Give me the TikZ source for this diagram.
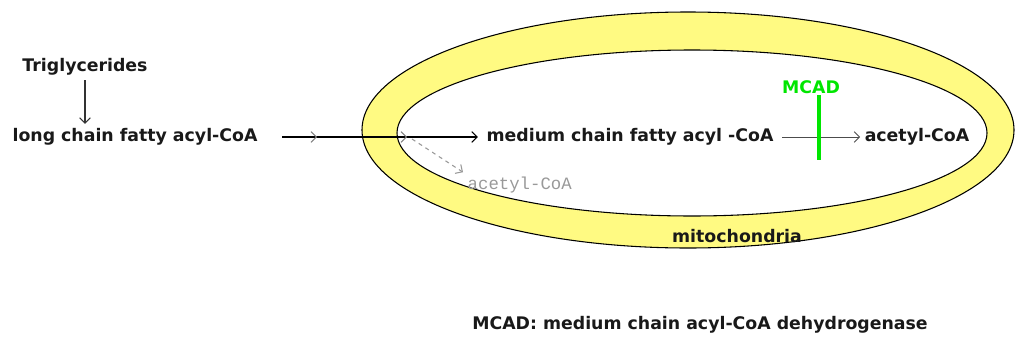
\documentclass[tikz,border=0pt]{standalone}
\usepackage{fontspec}
\setmainfont{DejaVu Sans}
\newfontfamily\monofont{Liberation Mono}
\usetikzlibrary{arrows.meta,decorations.markings}
\definecolor{mitoyellow}{RGB}{255,250,130}
\definecolor{mcadgreen}{RGB}{0,230,0}
\tikzset{
  lbl/.style={font=\fontsize{13}{15}\selectfont\bfseries,text=black!90},
  arr/.style={->,draw=black!80,line width=0.8pt},
  >={Straight Barb[length=4pt,width=8pt]}
}
\begin{document}
\begin{tikzpicture}[x=0.75pt,y=-0.75pt]
  \useasboundingbox (0,0) rectangle (1016,339);
  % mitochondrion: outer and inner membrane
  \fill[mitoyellow,even odd rule] (688,130) ellipse [x radius=244.5pt,y radius=88.5pt]
    (692,133) ellipse [x radius=221.25pt,y radius=62.25pt];
  \draw[line width=0.8pt] (688,130) ellipse [x radius=244.5pt,y radius=88.5pt];
  \draw[line width=0.8pt] (692,133) ellipse [x radius=221.25pt,y radius=62.25pt];
  \node[lbl] (mito) at (737,236) {mitochondria};
  % pathway
  \node[lbl] (tg) at (85,67) {Triglycerides};
  \node[lbl] (lcfa) at (135,137) {long chain fatty acyl-CoA};
  \node[lbl] (mcfa) at (630,137) {medium chain fatty acyl -CoA};
  \node[lbl] (acoa) at (917,137) {acetyl-CoA};
  \node[text=black!40,font=\monofont\fontsize{13}{15}\selectfont,anchor=west] (acoaside) at (463,185) {acetyl-CoA};
  \node[lbl,text=mcadgreen,inner sep=1pt] (mcad) at (811,87) {MCAD};
  \coordinate (split) at (412,139);
  \coordinate (barend) at (819,160);
  \draw[arr] (tg) -- (tg |- lcfa.north);
  \draw[arr,draw=black,shorten <=15pt,shorten >=3pt,
    postaction={decorate,decoration={markings,
      mark=at position 0.25 with {\arrow[black!50]{>}},
      mark=at position 0.66 with {\arrow[black!50]{>}}}}] (lcfa) -- (mcfa);
  \draw[arr,draw=black!40,dashed] (split) -- (acoaside.north west);
  \draw[arr,draw=black!70,line width=0.6pt,shorten <=3pt] (mcfa) -- (acoa);
  \draw[mcadgreen,line width=3pt] (barend |- mcad.south) -- (barend);
  % legend
  \node[lbl] (legend) at (700,325) {MCAD: medium chain acyl-CoA dehydrogenase};
\end{tikzpicture}
\end{document}
